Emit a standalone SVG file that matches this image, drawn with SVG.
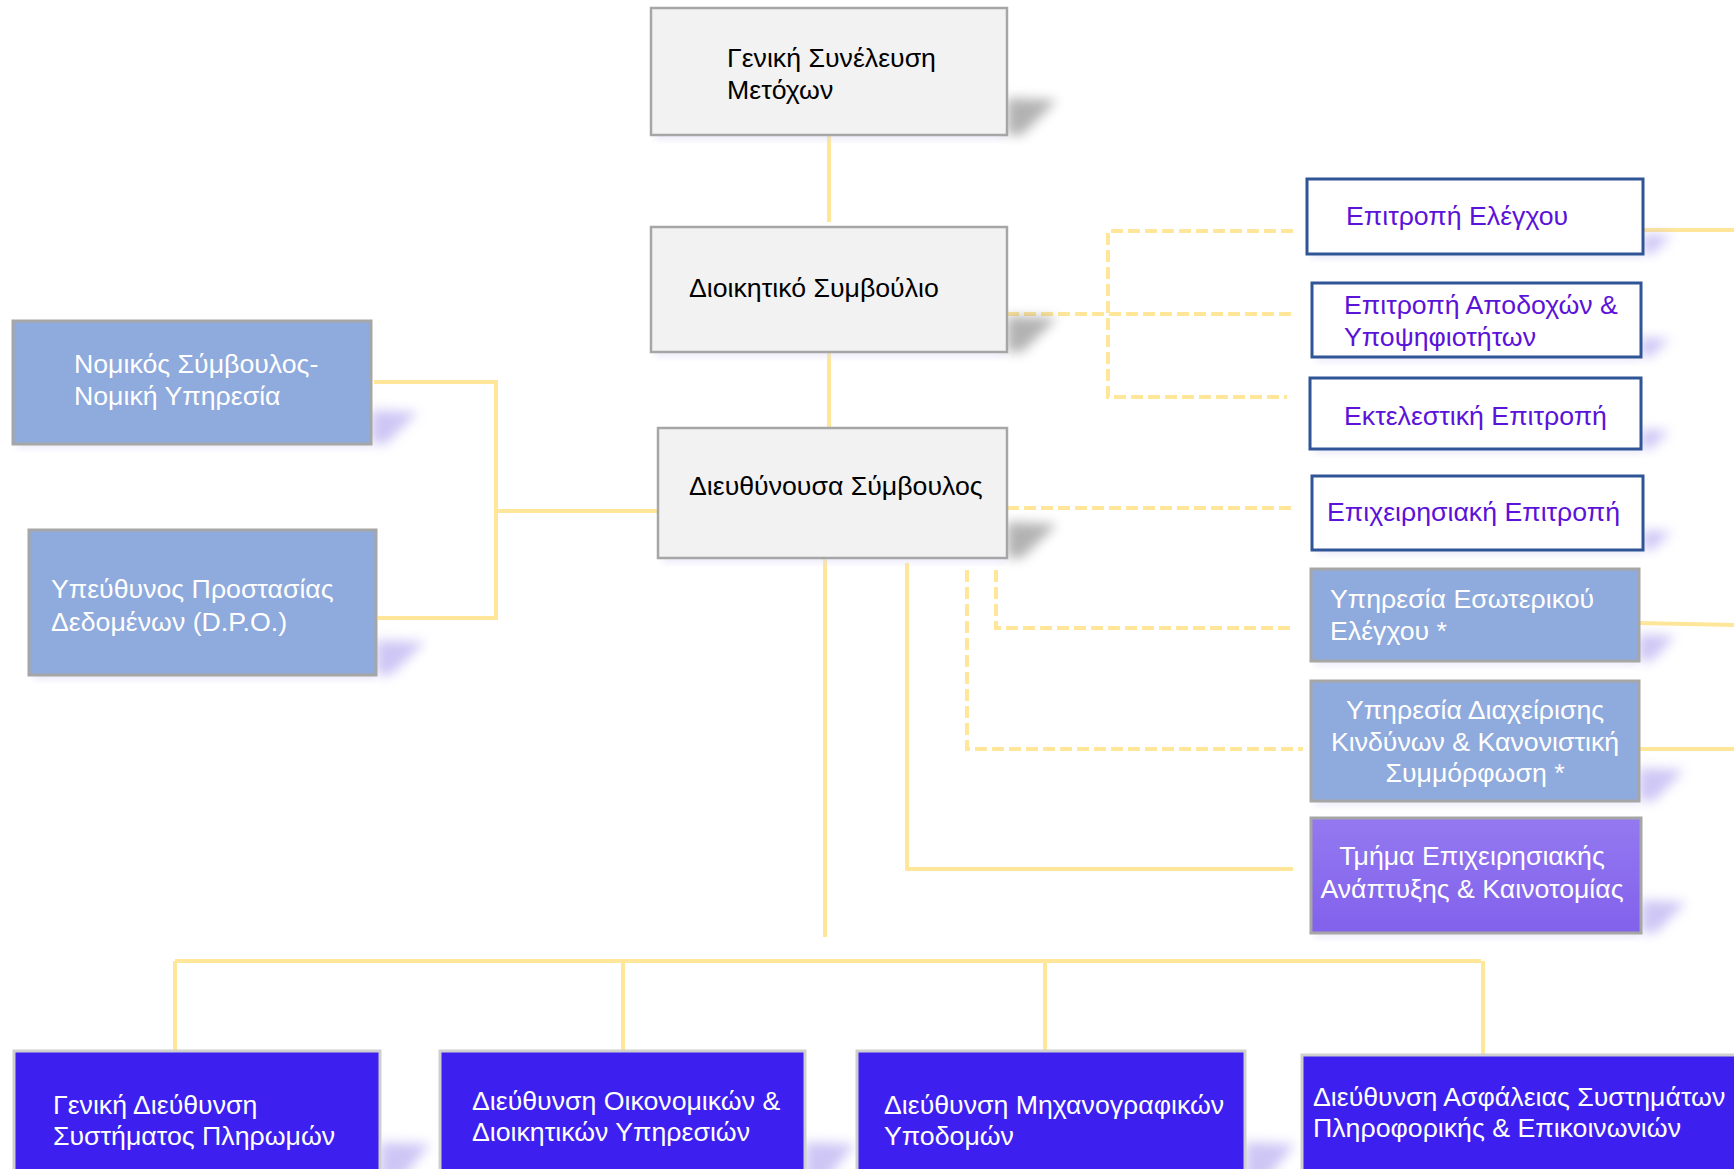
<svg xmlns="http://www.w3.org/2000/svg" width="1734" height="1169" viewBox="0 0 1734 1169">
<defs>
<style>
text{font-family:"Liberation Sans",Arial,sans-serif;font-size:26.7px}
.g rect.b{fill:#F2F2F2;stroke:#A6A6A6;stroke-width:2.5}
.g text{fill:#000}
.lb rect.b{fill:#8FAADC;stroke:#A6A6A6;stroke-width:3}
.lb text{fill:#fff}
.w rect.b{fill:#fff;stroke:#2F5597;stroke-width:3}
.w text{fill:#5B12D9}
.p rect.b{fill:url(#pg);stroke:#A6A6A6;stroke-width:3}
.p text{fill:#fff}
.d rect.b{fill:#3D1FEF;stroke:#CFCFCF;stroke-width:3}
.d text{fill:#fff}
.shg{fill:#808080;opacity:.6;filter:url(#bl)}
.shl{fill:#B4A8F0;opacity:.65;filter:url(#bl)}
.shb{fill:#DCD8F4;opacity:.5;filter:url(#bl2)}
.c path{fill:none;stroke:#FFE699;stroke-width:4}
.c path.ds{stroke-dasharray:12 5}
.ctr{text-anchor:middle}
</style>
<filter id="bl" x="-50%" y="-50%" width="200%" height="200%"><feGaussianBlur stdDeviation="6"/></filter>
<filter id="bl2" x="-50%" y="-50%" width="200%" height="200%"><feGaussianBlur stdDeviation="3"/></filter>
<linearGradient id="pg" x1="0" y1="0" x2="0" y2="1"><stop offset="0" stop-color="#9379F0"/><stop offset="1" stop-color="#8261EC"/></linearGradient>
</defs>
<rect width="1734" height="1169" fill="#fff"/>

<g id="connectors" class="c">
<path d="M829,135 V222"/>
<path d="M829,352 V428"/>
<path d="M374,382 H496 V618 H378"/>
<path d="M496,511 H658"/>
<path d="M825,558 V937"/>
<path d="M907,563 V869 H1293"/>
<path d="M175,961 H1481"/>
<path d="M175,961 V1051"/>
<path d="M623,961 V1051"/>
<path d="M1045,961 V1051"/>
<path d="M1483,961 V1055"/>
<path d="M1644,230 H1734"/>
<path d="M1639,623 L1734,625"/>
<path d="M1639,749 H1734"/>
<path class="ds" d="M1007,314 H1293"/>
<path class="ds" d="M1293,231 H1108 V397 H1287"/>
<path class="ds" d="M1007,508 H1296"/>
<path class="ds" d="M996,570 V628 H1294"/>
<path class="ds" d="M967,570 V749 H1303"/>
</g>

<g id="n-ga" class="g">
<rect class="shb" x="655" y="132" width="350" height="8"/>
<polygon class="shg" points="1007,98 1057,100 1022,135 1007,135"/>
<rect class="b" x="651" y="8" width="356" height="127"/>
<text><tspan x="727" y="67">Γενική Συνέλευση</tspan><tspan x="727" y="99">Μετόχων</tspan></text>
</g>

<g id="n-bod" class="g">
<rect class="shb" x="655" y="349" width="350" height="8"/>
<polygon class="shg" points="1007,316 1057,318 1022,352 1007,352"/>
<rect class="b" x="651" y="227" width="356" height="125"/>
<text x="689" y="297">Διοικητικό Συμβούλιο</text>
</g>

<g id="n-ceo" class="g">
<rect class="shb" x="662" y="555" width="343" height="8"/>
<polygon class="shg" points="1007,522 1057,524 1022,558 1007,558"/>
<rect class="b" x="658" y="428" width="349" height="130"/>
<text x="689" y="495">Διευθύνουσα Σύμβουλος</text>
</g>

<g id="n-legal" class="lb">
<rect class="shb" x="17" y="441" width="352" height="8"/>
<polygon class="shl" points="371,410 418,412 386,444 371,444"/>
<rect class="b" x="13" y="321" width="358" height="123"/>
<text><tspan x="74" y="373">Νομικός Σύμβουλος-</tspan><tspan x="74" y="405">Νομική Υπηρεσία</tspan></text>
</g>

<g id="n-dpo" class="lb">
<rect class="shb" x="33" y="672" width="341" height="8"/>
<polygon class="shl" points="376,640 425,642 391,675 376,675"/>
<rect class="b" x="29" y="530" width="347" height="145"/>
<text><tspan x="51" y="598">Υπεύθυνος Προστασίας</tspan><tspan x="51" y="631">Δεδομένων (D.P.O.)</tspan></text>
</g>

<g id="n-audit" class="w">
<rect class="shb" x="1311" y="252" width="330" height="7"/>
<polygon class="shl" points="1643,234 1672,236 1652,254 1643,254"/>
<rect class="b" x="1307" y="179" width="336" height="75"/>
<text x="1346" y="225">Επιτροπή Ελέγχου</text>
</g>

<g id="n-rem" class="w">
<rect class="shb" x="1316" y="355" width="323" height="7"/>
<polygon class="shl" points="1641,337 1670,339 1650,357 1641,357"/>
<rect class="b" x="1312" y="283" width="329" height="74"/>
<text><tspan x="1344" y="314">Επιτροπή Αποδοχών &amp;</tspan><tspan x="1344" y="346">Υποψηφιοτήτων</tspan></text>
</g>

<g id="n-exec" class="w">
<rect class="shb" x="1314" y="447" width="325" height="7"/>
<polygon class="shl" points="1641,429 1670,431 1650,449 1641,449"/>
<rect class="b" x="1310" y="378" width="331" height="71"/>
<text x="1344" y="425">Εκτελεστική Επιτροπή</text>
</g>

<g id="n-biz" class="w">
<rect class="shb" x="1316" y="548" width="325" height="7"/>
<polygon class="shl" points="1643,530 1672,532 1652,550 1643,550"/>
<rect class="b" x="1312" y="476" width="331" height="74"/>
<text x="1327" y="521">Επιχειρησιακή Επιτροπή</text>
</g>

<g id="n-ia" class="lb">
<rect class="shb" x="1315" y="659" width="322" height="7"/>
<polygon class="shl" points="1639,634 1675,636 1652,661 1639,661"/>
<rect class="b" x="1311" y="569" width="328" height="92"/>
<text><tspan x="1330" y="608">Υπηρεσία Εσωτερικού</tspan><tspan x="1330" y="640">Ελέγχου *</tspan></text>
</g>

<g id="n-risk" class="lb">
<rect class="shb" x="1315" y="799" width="322" height="7"/>
<polygon class="shl" points="1639,768 1684,770 1654,801 1639,801"/>
<rect class="b" x="1311" y="681" width="328" height="120"/>
<text class="ctr"><tspan x="1475" y="719">Υπηρεσία Διαχείρισης</tspan><tspan x="1475" y="751">Κινδύνων &amp; Κανονιστική</tspan><tspan x="1475" y="782">Συμμόρφωση *</tspan></text>
</g>

<g id="n-innov" class="p">
<rect class="shb" x="1315" y="931" width="324" height="7"/>
<polygon class="shl" points="1641,900 1686,902 1656,933 1641,933"/>
<rect class="b" x="1311" y="818" width="330" height="115"/>
<text class="ctr"><tspan x="1472" y="865">Τμήμα Επιχειρησιακής</tspan><tspan x="1472" y="898">Ανάπτυξης &amp; Καινοτομίας</tspan></text>
</g>

<g id="n-pay" class="d">
<polygon class="shl" points="380,1142 430,1144 400,1181 380,1181"/>
<rect class="b" x="14" y="1051" width="366" height="135"/>
<text><tspan x="53" y="1114">Γενική Διεύθυνση</tspan><tspan x="53" y="1145">Συστήματος Πληρωμών</tspan></text>
</g>

<g id="n-fin" class="d">
<polygon class="shl" points="805,1142 855,1144 825,1181 805,1181"/>
<rect class="b" x="440" y="1051" width="365" height="135"/>
<text><tspan x="472" y="1110">Διεύθυνση Οικονομικών &amp;</tspan><tspan x="472" y="1141">Διοικητικών Υπηρεσιών</tspan></text>
</g>

<g id="n-infra" class="d">
<polygon class="shl" points="1245,1142 1295,1144 1265,1181 1245,1181"/>
<rect class="b" x="857" y="1051" width="388" height="135"/>
<text><tspan x="884" y="1114">Διεύθυνση Μηχανογραφικών</tspan><tspan x="884" y="1145">Υποδομών</tspan></text>
</g>

<g id="n-sec" class="d">
<rect class="b" x="1302" y="1055" width="440" height="135"/>
<text><tspan x="1313" y="1106">Διεύθυνση Ασφάλειας Συστημάτων</tspan><tspan x="1313" y="1137">Πληροφορικής &amp; Επικοινωνιών</tspan></text>
</g>
</svg>
